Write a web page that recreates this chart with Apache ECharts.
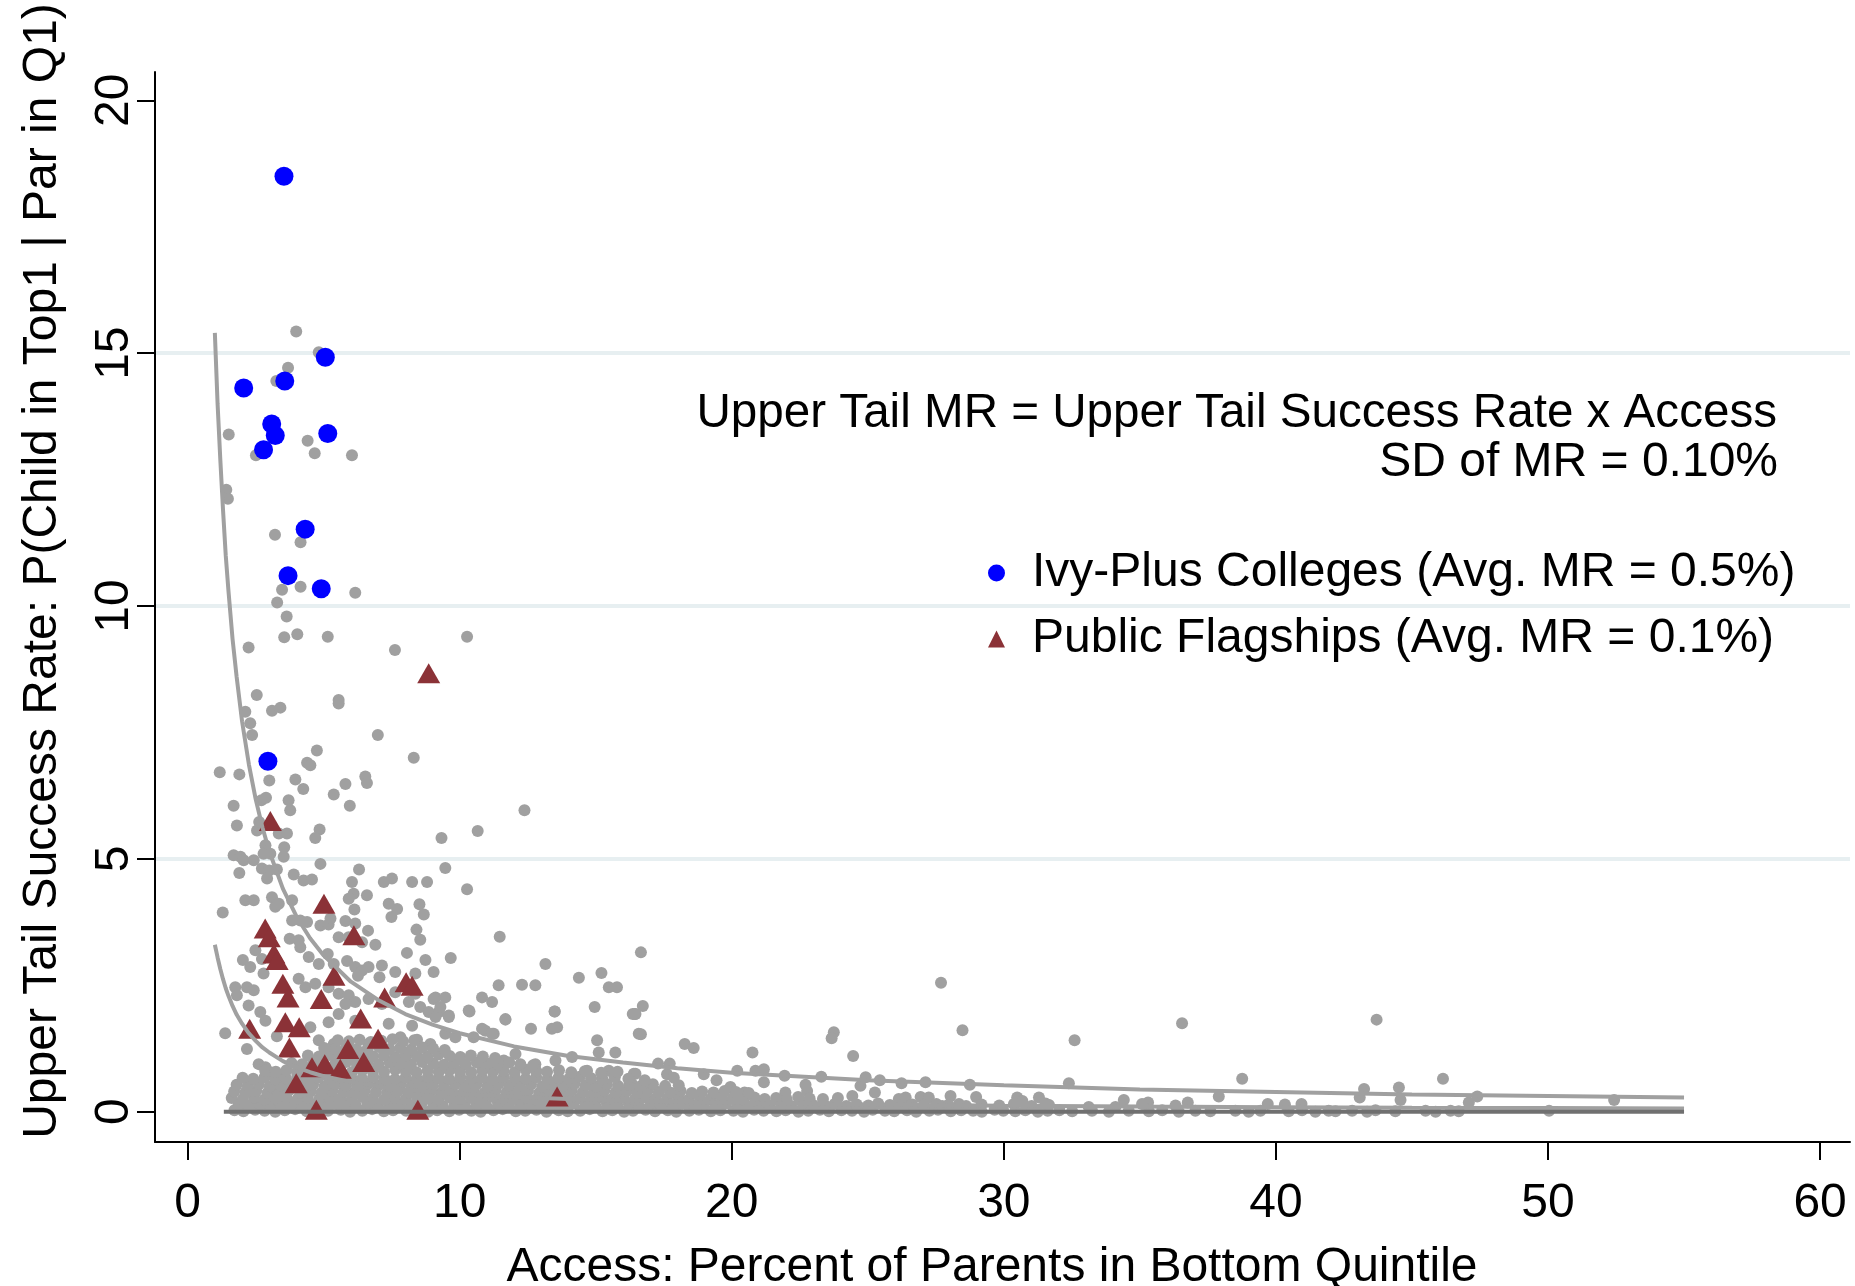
<!DOCTYPE html>
<html><head><meta charset="utf-8">
<script src="https://cdn.jsdelivr.net/npm/echarts@6.0.0/dist/echarts.min.js"></script>
<style>html,body{margin:0;padding:0;background:#fff}#chart{width:1855px;height:1286px}</style>
</head><body><div id="chart"></div>
<script>
const xTicks = [0, 10, 20, 30, 40, 50, 60];
const yTicks = [0, 5, 10, 15, 20];
const xTitle = 'Access: Percent of Parents in Bottom Quintile';
const yTitle = 'Upper Tail Success Rate: P(Child in Top1 | Par in Q1)';
const noteLine1 = 'Upper Tail MR = Upper Tail Success Rate x Access';
const noteLine2 = 'SD of MR = 0.10%';
const ivyName = 'Ivy-Plus Colleges (Avg. MR = 0.5%)';
const flagName = 'Public Flagships (Avg. MR = 0.1%)';

const ivyPlus = [[5.06,14.92],[2.06,14.31],[3.57,14.45],[3.09,13.60],[3.22,13.37],[2.79,13.09],[5.15,13.41],[4.32,11.52],[3.69,10.60],[4.91,10.34],[3.54,18.50],[2.95,6.93]];

const flagships = [[3.04,5.75],[5.01,4.11],[2.85,3.62],[3.0,3.45],[6.11,3.49],[3.17,3.13],[3.29,3.0],[3.5,2.53],[5.38,2.69],[8.03,2.56],[8.25,2.49],[3.69,2.26],[4.91,2.23],[7.24,2.26],[2.28,1.64],[3.59,1.77],[4.1,1.67],[6.36,1.84],[7.0,1.44],[3.74,1.27],[5.89,1.24],[6.47,0.98],[5.04,0.94],[4.57,0.88],[5.61,0.85],[3.99,0.56],[4.73,0.04],[8.46,0.04],[13.58,0.30],[8.86,8.67]];

const curveX = [1.0,1.1,1.2,1.3,1.4,1.5,1.65,1.8,2,2.25,2.5,2.75,3,3.5,4,4.5,5,6,7,8,9,10,12,14,16,18,20,25,30,35,40,45,50,55];
const upperCurveY = [15.4,14.0,12.9,11.9,11.0,10.3,9.35,8.6,7.72,6.87,6.18,5.62,5.15,4.41,3.86,3.43,3.09,2.57,2.21,1.93,1.72,1.55,1.29,1.10,0.97,0.86,0.77,0.62,0.52,0.44,0.39,0.34,0.31,0.28];
const lowerCurveY = [3.3,3.05,2.82,2.62,2.44,2.29,2.09,1.92,1.74,1.55,1.40,1.27,1.17,1.0,0.875,0.78,0.70,0.585,0.50,0.44,0.39,0.35,0.29,0.25,0.22,0.195,0.175,0.14,0.117,0.1,0.088,0.078,0.07,0.064];
const zeroLineX = [1.33, 55];
const zeroLineY = [0, 0];

const grayColleges = [
[3.99,15.43],[4.82,15.02],[3.69,14.71],[3.26,14.45],[1.51,13.39],[2.51,12.98],[4.41,13.27],[4.67,13.02],[6.04,12.98],[1.42,12.30],[1.48,12.12],[3.21,11.41],[4.15,11.26],[3.47,10.32],[4.15,10.38],[6.16,10.26],[3.29,10.07],[3.64,9.79],[3.55,9.38],[4.03,9.44],[5.15,9.39],[2.24,9.18],[7.62,9.13],[10.27,9.39],[2.54,8.24],[5.55,8.14],
[2.12,7.91],[2.30,7.68],[2.37,7.45],[3.10,7.93],[3.41,7.99],[5.55,8.07],[6.99,7.45],[8.31,7.00],[1.18,6.71],[1.90,6.67],[3.00,6.55],[3.96,6.57],[4.25,6.38],[4.75,7.14],[4.39,6.90],[4.51,6.85],[5.80,6.48],[5.37,6.27],[5.96,6.05],[6.53,6.63],[6.59,6.50],[1.69,6.05],[2.71,6.16],[2.88,6.21],[3.71,6.16],[3.77,5.96],[1.81,5.66],[2.55,5.56],[2.63,5.73],[3.35,5.50],[3.65,5.50],[4.85,5.58],[4.69,5.41],[12.38,5.96],[10.66,5.55],[9.33,5.41],[2.86,5.27],[3.04,5.10],[3.55,5.23],[1.69,5.07],[1.94,5.04],[2.06,4.97],[2.43,4.97],[2.79,5.10],[3.53,5.04],[4.88,4.90],[2.73,4.81],[3.00,4.77],[3.28,4.79],[1.90,4.72],[2.92,4.61],[3.90,4.69],[4.26,4.57],[4.57,4.59],[6.30,4.79],[9.47,4.82],[10.27,4.40],
[2.12,4.18],[2.43,4.18],[3.10,4.24],[3.22,4.05],[3.35,4.11],[1.29,3.94],[3.84,4.18],[4.14,3.78],[3.84,3.78],[4.39,3.75],[4.88,3.68],[5.18,3.70],[5.25,3.82],[6.04,4.54],[6.10,4.31],[5.92,4.21],[6.59,4.28],[7.21,4.54],[7.51,4.61],[8.25,4.54],[8.80,4.54],[7.39,4.11],[7.70,4.01],[7.49,3.85],[8.52,4.10],[8.68,3.90],[6.13,4.00],[5.80,3.77],[6.16,3.72],[6.63,3.58],[6.90,3.30],[5.55,3.45],[5.92,3.45],[6.41,3.35],[3.75,3.42],[4.08,3.39],[4.14,3.25],[8.41,3.60],[8.55,3.40],[11.47,3.46],[8.06,3.14],[8.74,3.00],[9.67,3.04],[9.04,2.76],[2.03,3.00],[2.30,2.86],[2.73,3.02],[2.49,3.19],[2.79,2.73],[4.45,3.06],[4.82,2.92],[5.15,3.12],[5.37,2.92],[5.86,2.98],[6.16,2.86],[6.41,2.79],[6.65,2.86],[7.14,2.89],[7.63,2.76],[8.37,2.73],[6.26,2.69],[7.05,2.66],[1.75,2.46],[2.18,2.46],[2.43,2.40],[1.81,2.30],[4.08,2.63],[4.33,2.46],[4.69,2.53],[5.18,2.46],[5.55,2.33],[5.92,2.30],[6.16,2.17],[6.65,2.23],[7.63,2.36],[8.37,2.33],[8.13,2.17],[9.11,2.26],[9.47,2.26],[10.36,1.98],[10.82,2.26],[11.19,2.17],[13.15,2.92],[14.38,2.65],[15.21,2.74],[15.48,2.46],[15.78,2.46],[16.36,1.93],[12.29,2.51],[12.78,2.50],[11.43,2.50],[14.96,2.07],[13.49,1.98],[13.39,1.64],[13.58,1.67],[12.62,1.64],[11.68,1.82],[10.94,1.60],[11.25,1.54],[9.04,2.23],[9.23,1.97],[9.60,1.90],
[1.38,1.55],[2.18,1.24],[2.24,2.10],[2.67,1.97],[2.86,1.80],[3.28,1.49],[2.61,0.94],[2.86,0.88],[3.04,0.78],[3.47,0.65],[4.51,1.67],[4.82,1.41],[5.18,1.77],[5.37,1.34],[5.55,1.93],[5.80,2.13],[6.16,1.80],[6.65,1.34],[7.39,1.74],[7.14,2.13],[7.82,1.47],[8.00,1.08],[8.25,1.70],[8.55,2.07],[8.43,1.42],[8.86,1.97],[8.92,1.34],[9.11,1.87],[9.29,2.07],[9.60,1.87],[9.47,1.54],[9.84,1.47],[10.33,2.00],[10.51,1.47],[10.82,1.64],[11.19,1.54],[11.68,1.83],[12.05,1.14],[11.62,1.01],[13.49,1.98],[15.05,1.41],[15.11,1.17],[15.72,1.17],[16.46,1.93],[16.58,1.54],[14.13,1.08],[13.52,1.01],[12.78,0.94],[14.68,0.81],[15.48,0.81],[16.46,0.75],
[16.66,3.15],[16.73,2.09],[16.44,1.93],[16.66,1.53],[18.27,1.34],[18.60,1.26],[20.76,1.17],[23.75,1.57],[23.67,1.45],[24.46,1.10],[27.69,2.55],[28.48,1.61],[32.60,1.41],[17.29,0.95],[17.72,0.95],[16.40,0.75],[16.34,0.54],[17.62,0.74],[17.87,0.67],[18.97,0.74],[19.44,0.62],[19.95,0.49],[20.20,0.81],[20.47,0.38],[20.87,0.81],[21.18,0.84],[21.18,0.58],[21.94,0.71],[21.97,0.38],[22.71,0.53],[22.77,0.41],[23.29,0.69],[24.43,0.31],[24.92,0.68],[24.73,0.51],[25.26,0.38],[25.44,0.62],[26.24,0.56],[26.14,0.25],[26.39,0.28],[26.94,0.29],[27.12,0.58],[27.24,0.28],[28.04,0.31],[27.73,0.11],[28.75,0.53],[28.98,0.29],[28.35,0.15],[30.49,0.28],[30.68,0.21],[31.29,0.28],[31.53,0.16],[32.39,0.56],
[36.55,1.75],[43.70,1.82],[38.76,0.65],[46.14,0.65],[34.41,0.23],[35.30,0.18],[35.08,0.15],[36.31,0.12],[36.76,0.18],[37.90,0.30],[39.70,0.15],[40.33,0.14],[40.94,0.15],[43.08,0.28],[43.24,0.45],[44.52,0.48],[44.58,0.23],[47.09,0.18],[47.40,0.30],[33.12,0.09],[34.10,0.09],[50.04,0.02],[52.43,0.23],
[1.72,0.03],[2.05,0.01],[2.48,0.04],[2.83,0.02],[3.22,0.00],[3.57,0.03],[3.95,0.05],[4.38,0.01],[4.81,0.03],[5.16,0.02],[5.63,0.04],[5.97,0.00],[6.42,0.02],[6.78,0.05],[7.21,0.01],[7.55,0.03],[8.03,0.02],[8.38,0.04],[8.84,0.00],[9.17,0.03],[9.62,0.01],[9.98,0.04],[10.43,0.02],[10.77,0.00],[11.24,0.03],[11.58,0.05],[12.06,0.01],[12.41,0.02],[12.82,0.04],[13.19,0.00],[13.64,0.03],[13.97,0.01],[14.43,0.02],[14.78,0.05],[15.25,0.01],[15.61,0.03],[16.04,0.00],[16.37,0.02],[16.83,0.04],[17.18,0.01],[17.65,0.03],[17.96,0.00],[18.44,0.02],[18.79,0.04],[19.23,0.01],[19.58,0.03],[20.06,0.02],[20.41,0.00],[20.82,0.04],[21.17,0.02],[21.64,0.01],[21.98,0.03],[22.45,0.00],[22.81,0.02],[23.24,0.04],[23.57,0.01],[24.03,0.03],[24.42,0.02],[24.86,0.00],[25.18,0.04],[25.63,0.02],[25.97,0.01],[26.44,0.03],[26.78,0.00],[27.26,0.02],[27.58,0.04],[28.05,0.01],[28.43,0.03],[28.87,0.02],[29.19,0.00],[29.66,0.04],[29.98,0.02],[30.42,0.01],[30.79,0.03],[31.25,0.00],[31.61,0.02],[32.04,0.03],
[32.51,0.01],[33.24,0.02],[33.86,0.00],[34.59,0.02],[35.33,0.01],[35.82,0.03],[36.43,0.00],[37.04,0.02],[37.59,0.01],[38.51,0.02],[39.00,0.00],[39.43,0.02],[40.47,0.01],[40.96,0.03],[41.45,0.00],[41.94,0.02],[42.19,0.01],[42.80,0.02],[43.35,0.00],[43.66,0.03],[44.39,0.01],[45.50,0.02],[45.87,0.00],[46.42,0.02],[46.72,0.01],
[1.88,0.14],[2.27,0.12],[2.66,0.15],[3.04,0.11],[3.43,0.13],[3.81,0.16],[4.22,0.12],[4.58,0.14],[5.01,0.11],[5.39,0.15],[5.82,0.13],[6.18,0.12],[6.61,0.16],[6.99,0.13],[7.42,0.11],[7.78,0.14],[8.21,0.12],[8.59,0.16],[9.03,0.13],[9.38,0.11],[9.81,0.15],[10.19,0.12],[10.62,0.14],[10.98,0.11],[11.41,0.16],[11.79,0.13],[12.22,0.12],[12.58,0.15],[13.01,0.11],[13.39,0.14],[13.83,0.12],[14.18,0.16],[14.62,0.13],[14.99,0.11],[15.41,0.15],[15.79,0.12],[16.22,0.14],[16.58,0.11],[17.01,0.16],[17.39,0.13],[17.83,0.12],[18.19,0.15],[18.62,0.11],[18.98,0.14],[19.41,0.12],[19.79,0.16],[20.22,0.13],[20.58,0.11],[21.01,0.15],[21.39,0.12],[21.82,0.14],[22.18,0.11],[22.61,0.16],[22.99,0.13],[23.42,0.12],[23.78,0.15],[24.21,0.11],[24.59,0.14],[25.02,0.12],[25.38,0.16],[25.81,0.13],[26.24,0.11],[26.63,0.14],[27.05,0.12],[27.52,0.15],[27.96,0.13],[28.61,0.11],[29.18,0.14],[29.83,0.12],[30.37,0.15],[31.02,0.11],[31.66,0.13],
[1.62,0.27],[2.03,0.25],[2.44,0.28],[2.82,0.24],[3.23,0.26],[3.62,0.29],[4.04,0.25],[4.41,0.27],[4.83,0.24],[5.22,0.28],[5.61,0.26],[6.03,0.25],[6.42,0.29],[6.81,0.26],[7.23,0.24],[7.62,0.27],[8.02,0.25],[8.43,0.28],[8.81,0.26],[9.22,0.24],[9.63,0.28],[10.01,0.25],[10.42,0.27],[10.83,0.24],[11.21,0.29],[11.62,0.26],[12.03,0.25],[12.42,0.28],[12.81,0.24],[13.22,0.27],[13.63,0.25],[14.02,0.29],[14.41,0.26],[14.82,0.24],[15.23,0.28],[15.61,0.25],[16.02,0.27],[16.43,0.24],[16.82,0.29],[17.21,0.26],[17.62,0.25],[18.03,0.28],[18.42,0.24],[18.83,0.27],[19.22,0.25],[19.61,0.29],[20.03,0.26],[20.42,0.24],[20.83,0.28],[21.21,0.25],[21.63,0.27],[22.02,0.24],[22.44,0.29],[22.86,0.26],[23.35,0.25],[23.90,0.27],
[1.71,0.40],[2.12,0.38],[2.52,0.41],[2.93,0.37],[3.31,0.39],[3.72,0.42],[4.13,0.38],[4.52,0.40],[4.91,0.37],[5.32,0.41],[5.73,0.39],[6.12,0.38],[6.51,0.42],[6.92,0.39],[7.33,0.37],[7.71,0.40],[8.12,0.38],[8.53,0.41],[8.92,0.39],[9.31,0.37],[9.72,0.41],[10.13,0.38],[10.52,0.40],[10.91,0.37],[11.32,0.42],[11.73,0.39],[12.12,0.38],[12.51,0.41],[12.92,0.37],[13.33,0.40],[13.71,0.38],[14.12,0.42],[14.53,0.39],[14.92,0.37],[15.31,0.41],[15.72,0.38],[16.13,0.40],[16.52,0.37],[16.91,0.42],[17.32,0.39],[17.73,0.38],[18.12,0.41],[18.53,0.37],[18.91,0.40],[19.33,0.38],[19.74,0.41],[20.15,0.39],[20.62,0.37],
[1.80,0.53],[2.21,0.51],[2.62,0.54],[3.02,0.50],[3.41,0.52],[3.83,0.55],[4.22,0.51],[4.61,0.53],[5.03,0.50],[5.42,0.54],[5.81,0.52],[6.22,0.51],[6.63,0.55],[7.02,0.52],[7.41,0.50],[7.82,0.53],[8.23,0.51],[8.62,0.54],[9.01,0.52],[9.42,0.50],[9.83,0.54],[10.22,0.51],[10.61,0.53],[11.02,0.50],[11.43,0.55],[11.82,0.52],[12.21,0.51],[12.62,0.54],[13.03,0.50],[13.42,0.53],[13.81,0.51],[14.22,0.55],[14.63,0.52],[15.02,0.50],[15.41,0.54],[15.82,0.51],[16.23,0.53],[16.64,0.50],[17.10,0.54],[17.55,0.51],[18.05,0.52],
[2.02,0.67],[2.41,0.65],[2.83,0.68],[3.22,0.64],[3.61,0.66],[4.03,0.69],[4.42,0.65],[4.81,0.67],[5.22,0.64],[5.63,0.68],[6.02,0.66],[6.41,0.65],[6.82,0.69],[7.23,0.66],[7.62,0.64],[8.01,0.67],[8.42,0.65],[8.83,0.68],[9.22,0.66],[9.61,0.64],[10.02,0.68],[10.43,0.65],[10.82,0.67],[11.21,0.64],[11.62,0.69],[12.03,0.66],[12.42,0.65],[12.81,0.68],[13.22,0.64],[13.63,0.67],[14.02,0.65],[14.41,0.69],[14.83,0.66],[15.25,0.64],[15.70,0.68],[16.20,0.65],[16.80,0.62],
[2.85,0.81],[3.24,0.79],[3.63,0.82],[4.02,0.78],[4.43,0.80],[4.82,0.83],[5.21,0.79],[5.62,0.81],[6.03,0.78],[6.42,0.82],[6.81,0.80],[7.22,0.79],[7.63,0.83],[8.02,0.80],[8.41,0.78],[8.82,0.81],[9.23,0.79],[9.62,0.82],[10.01,0.80],[10.42,0.78],[10.83,0.82],[11.22,0.79],[11.61,0.81],[12.02,0.78],[12.43,0.83],[12.82,0.80],[13.21,0.79],[13.65,0.82],[14.10,0.78],[14.60,0.80],[15.20,0.77],[15.80,0.79],
[3.82,0.96],[4.21,0.94],[4.62,0.97],[5.01,0.93],[5.42,0.95],[5.83,0.98],[6.22,0.94],[6.61,0.96],[7.02,0.93],[7.43,0.97],[7.82,0.95],[8.21,0.94],[8.62,0.98],[9.03,0.95],[9.42,0.93],[9.81,0.96],[10.22,0.94],[10.63,0.97],[11.02,0.95],[11.41,0.93],[11.82,0.97],[12.23,0.94],[12.70,0.92],
[4.42,1.11],[4.83,1.09],[5.22,1.12],[5.61,1.08],[6.02,1.10],[6.43,1.13],[6.82,1.09],[7.21,1.11],[7.62,1.08],[8.03,1.12],[8.42,1.10],[8.81,1.09],[9.22,1.13],[9.63,1.10],[10.02,1.08],[10.41,1.11],[10.85,1.09],[11.30,1.06],
[5.02,1.26],[5.43,1.24],[5.82,1.27],[6.21,1.23],[6.62,1.25],[7.03,1.28],[7.42,1.24],[7.81,1.26],[8.22,1.23],[8.63,1.27],[9.02,1.25],[9.45,1.22],
[5.52,1.41],[5.93,1.39],[6.32,1.42],[6.73,1.38],[7.12,1.40],[7.53,1.43],[7.92,1.39],[8.33,1.41]
];

const FONT = '"Liberation Sans", Arial, sans-serif';
const chart = echarts.init(document.getElementById('chart'), null, {renderer: 'canvas'});

const upperCurve = curveX.map((x, i) => [x, upperCurveY[i]]);
const lowerCurve = curveX.map((x, i) => [x, lowerCurveY[i]]);
const zeroLine = zeroLineX.map((x, i) => [x, zeroLineY[i]]);

const option = {
  animation: false,
  backgroundColor: '#ffffff',
  textStyle: {fontFamily: FONT},
  grid: {left: 155, right: 5, top: 72, bottom: 144, containLabel: false},
  xAxis: {
    type: 'value', min: -1.2, max: 61.1, minInterval: 10, maxInterval: 10, splitNumber: 6,
    axisLine: {show: true, onZero: false, lineStyle: {color: '#000', width: 2}},
    axisTick: {show: true, length: 18, customValues: xTicks, lineStyle: {color: '#000', width: 2}},
    axisLabel: {show: true, customValues: xTicks, margin: 38, fontSize: 48, color: '#000', fontFamily: FONT},
    splitLine: {show: false}
  },
  yAxis: {
    type: 'value', min: -0.6, max: 20.56, minInterval: 5, maxInterval: 5, splitNumber: 4,
    axisLine: {show: true, onZero: false, lineStyle: {color: '#000', width: 2}},
    axisTick: {show: true, length: 18, customValues: yTicks, lineStyle: {color: '#000', width: 2}},
    axisLabel: {show: true, customValues: yTicks, rotate: 90, margin: 16, fontSize: 48, color: '#000', fontFamily: FONT},
    splitLine: {show: true, showMinLine: false, showMaxLine: false, lineStyle: {color: '#e7eff1', width: 4}}
  },
  legend: {
    orient: 'vertical', left: 988, top: 541, padding: 0,
    itemWidth: 17, itemHeight: 17, itemGap: 2,
    selectedMode: false,
    textStyle: {fontSize: 48, lineHeight: 48, color: '#000', fontFamily: FONT, padding: [16, 0, 0, 22]},
    data: [{name: ivyName, icon: 'circle'}, {name: flagName, icon: 'triangle'}]
  },
  graphic: [
    {type: 'text', x: 1777, y: 414, silent: true,
     style: {text: noteLine1, fontSize: 47.6, fontFamily: FONT, fill: '#000', align: 'right', verticalAlign: 'middle', textAlign: 'right', textVerticalAlign: 'middle'}},
    {type: 'text', x: 1778, y: 463, silent: true,
     style: {text: noteLine2, fontSize: 48, fontFamily: FONT, fill: '#000', align: 'right', verticalAlign: 'middle', textAlign: 'right', textVerticalAlign: 'middle'}},
    {type: 'text', x: 992, y: 1268, silent: true,
     style: {text: xTitle, fontSize: 48, fontFamily: FONT, fill: '#000', align: 'center', verticalAlign: 'middle', textAlign: 'center', textVerticalAlign: 'middle'}},
    {type: 'text', x: 43, y: 571, rotation: Math.PI / 2, silent: true,
     style: {text: yTitle, fontSize: 48, fontFamily: FONT, fill: '#000', align: 'center', verticalAlign: 'middle', textAlign: 'center', textVerticalAlign: 'middle'}}
  ],
  series: [
    {name: 'All Colleges', type: 'scatter', data: grayColleges, symbol: 'circle', symbolSize: 12,
     itemStyle: {color: '#a0a0a0', opacity: 1}, silent: true, emphasis: {disabled: true}, z: 2},
    {name: ivyName, type: 'scatter', data: ivyPlus, symbol: 'circle', symbolSize: 19,
     itemStyle: {color: '#0000ff', opacity: 1}, emphasis: {disabled: true}, z: 3},
    {name: flagName, type: 'scatter', data: flagships, symbol: 'triangle', symbolSize: [23, 20],
     itemStyle: {color: '#8b3237', opacity: 1}, emphasis: {disabled: true}, z: 4},
    {name: 'upper', type: 'line', data: upperCurve, symbol: 'none', smooth: false,
     lineStyle: {color: '#a0a0a0', width: 4}, silent: true, z: 5},
    {name: 'lower', type: 'line', data: lowerCurve, symbol: 'none', smooth: false,
     lineStyle: {color: '#a0a0a0', width: 4}, silent: true, z: 5},
    {name: 'zero', type: 'line', data: zeroLine, symbol: 'none',
     lineStyle: {color: '#707070', width: 4}, silent: true, z: 6}
  ]
};
chart.setOption(option);
</script>
</body></html>
